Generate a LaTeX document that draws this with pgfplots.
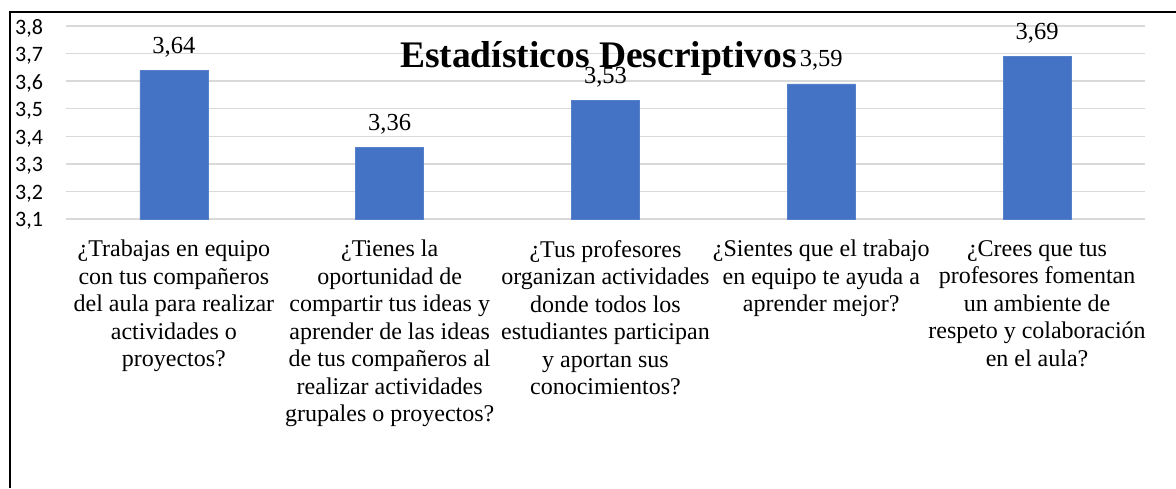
\documentclass[border=0pt]{standalone}
\usepackage{pgfplots}
\pgfplotsset{compat=1.18}
\usepackage{fontspec}
\setmainfont{Liberation Serif}
\newfontfamily\calibri{Carlito}
\definecolor{barblue}{RGB}{68,114,196}
\definecolor{gridgray}{RGB}{217,217,217}
\begin{document}
\begin{tikzpicture}
\useasboundingbox (0,0) rectangle (1176pt,-488pt);
\fill[white] (0,0) rectangle (1176pt,-488pt);
\begin{axis}[
  at={(66pt,-219pt)}, anchor=south west,
  scale only axis, width=1079pt, height=193pt,
  ybar, bar width=68pt,
  xmin=-0.5, xmax=4.5, ymin=3.1, ymax=3.8,
  ytick={3.1,3.2,3.3,3.4,3.5,3.6,3.7,3.8},
  xtick=data,
  axis line style={draw=none},
  major tick length=0pt,
  ymajorgrids, grid style={gridgray, line width=1.5pt},
  /pgf/number format/assume math mode=true,
  yticklabel style={font=\calibri\fontsize{22}{26}\selectfont, anchor=west, inner sep=0pt, xshift=-51pt, yshift=-2pt,
    /pgf/number format/use comma, /pgf/number format/fixed, /pgf/number format/fixed zerofill, /pgf/number format/precision=1},
  xticklabel style={font=\fontsize{24}{27.5}\selectfont, align=center, anchor=north, inner sep=0pt, yshift=-21pt},
  xticklabels={
    {¿Trabajas en equipo\\con tus compañeros\\del aula para realizar\\actividades o\\proyectos?},
    {¿Tienes la\\oportunidad de\\compartir tus ideas y\\aprender de las ideas\\de tus compañeros al\\realizar actividades\\grupales o proyectos?},
    {¿Tus profesores\\organizan actividades\\donde todos los\\estudiantes participan\\y aportan sus\\conocimientos?},
    {¿Sientes que el trabajo\\en equipo te ayuda a\\aprender mejor?},
    {¿Crees que tus\\profesores fomentan\\un ambiente de\\respeto y colaboración\\en el aula?}},
  nodes near coords,
  every node near coord/.append style={font=\fontsize{24.5}{28}\selectfont, text=black, anchor=base, inner sep=0pt, yshift=17pt,
    /pgf/number format/use comma, /pgf/number format/fixed, /pgf/number format/fixed zerofill, /pgf/number format/precision=2},
  clip=false,
]
\addplot[fill=barblue, draw=barblue!90!white] coordinates {(0,3.64) (1,3.36) (2,3.53) (3,3.59) (4,3.69)};
\end{axis}
\node[font=\bfseries\fontsize{37.5}{44}\selectfont, inner sep=0pt, anchor=base] at (598.5pt,-67pt) {Estadísticos Descriptivos};
\draw[line width=2pt, black] (9.5pt,-488pt) -- (9.5pt,-11.5pt) -- (1176pt,-11.5pt);
\end{tikzpicture}
\end{document}
